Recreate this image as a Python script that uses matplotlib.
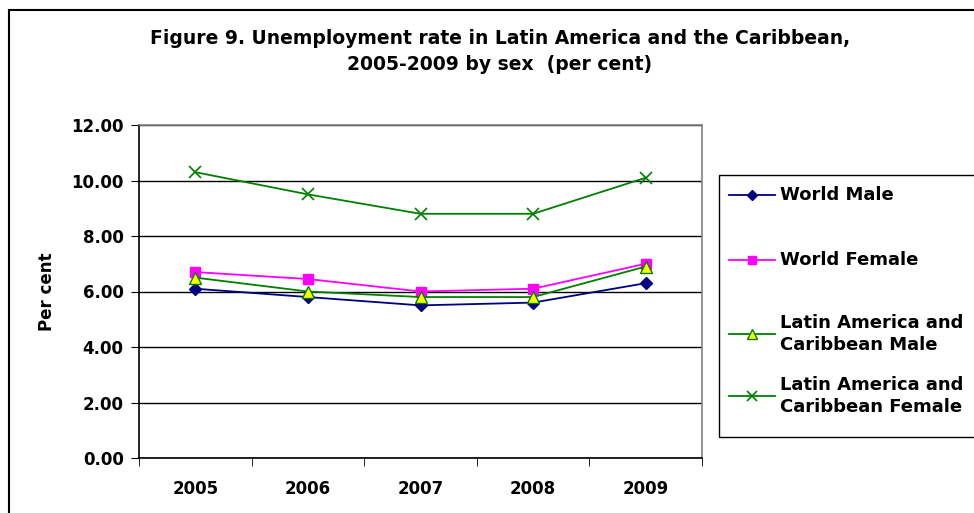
import matplotlib
matplotlib.use("Agg")
import matplotlib.pyplot as plt
from matplotlib.patches import Rectangle
from matplotlib.lines import Line2D

# --- DATA ---
years = ["2005", "2006", "2007", "2008", "2009"]
world_male = [6.1, 5.8, 5.5, 5.6, 6.3]
world_female = [6.7, 6.45, 6.0, 6.1, 7.0]
lac_male = [6.5, 6.0, 5.8, 5.8, 6.9]
lac_female = [10.3, 9.5, 8.8, 8.8, 10.1]
y_ticks = [0, 2, 4, 6, 8, 10, 12]

plt.rcParams['font.family'] = ['DejaVu Sans']

W, H = 974, 513
fig = plt.figure(figsize=(W / 100, H / 100), dpi=100)

# outer chart-area frame (cut off at right and bottom)
fig.patches.append(Rectangle((9 / W, -0.05), 1.2, 1 - 10 / H + 0.05,
                             transform=fig.transFigure, fill=False,
                             edgecolor='black', linewidth=1.5))

# --- PLOT AREA ---
x0, x1, ytop, ybot = 139, 702, 125, 458
ax = fig.add_axes([x0 / W, (H - ybot) / H, (x1 - x0) / W, (ybot - ytop) / H])

xs = list(range(len(years)))
ax.plot(xs, world_male, color='#000080', marker='D', markersize=6, lw=1.3,
        label='World Male', zorder=3)
ax.plot(xs, world_female, color='#ff00ff', marker='s', markersize=7, lw=1.3,
        label='World Female', zorder=3)
ax.plot(xs, lac_male, color='#008000', marker='^', markersize=8, lw=1.3,
        markerfacecolor='#ffff00', markeredgecolor='#008000',
        label='Latin America and\nCaribbean Male', zorder=3)
ax.plot(xs, lac_female, color='#008000', marker='x', markersize=9, lw=1.3,
        markeredgewidth=1.2, label='Latin America and\nCaribbean Female', zorder=3)

ax.set_xlim(-0.5, len(years) - 0.5)
ax.set_ylim(0, 12)
ax.set_yticks(y_ticks)
ax.set_yticklabels([f"{v:.2f}" for v in y_ticks], fontsize=12, fontweight='bold')
ax.set_xticks(xs)
ax.set_xticklabels(years, fontsize=12, fontweight='bold')
ax.set_xticks([i - 0.5 for i in range(len(years) + 1)], minor=True)
ax.tick_params(axis='x', which='major', length=0, pad=16)
ax.tick_params(axis='x', which='minor', length=6, direction='out', color='black')
ax.tick_params(axis='y', length=6, direction='out', pad=5, color='black')

ax.grid(axis='y', color='black', linewidth=1)
ax.set_axisbelow(True)
for side in ['left', 'bottom']:
    ax.spines[side].set_color('black')
    ax.spines[side].set_linewidth(1.2)
for side in ['top', 'right']:
    ax.spines[side].set_color('#808080')
    ax.spines[side].set_linewidth(1.2)

ax.set_ylabel('Per cent', fontsize=12, fontweight='bold', labelpad=11)

fig.text(500 / W, 1 - 38 / H, 'Figure 9. Unemployment rate in Latin America and the Caribbean,',
         ha='center', va='center', fontsize=13.5, fontweight='bold')
fig.text(500 / W, 1 - 64 / H, '2005-2009 by sex  (per cent)',
         ha='center', va='center', fontsize=13.5, fontweight='bold')

# --- LEGEND (box cut off at right edge) ---
fig.patches.append(Rectangle((719 / W, 1 - 437 / H), 300 / W, (437 - 175) / H,
                             transform=fig.transFigure, fill=False,
                             edgecolor='black', linewidth=1))
handles, labels = ax.get_legend_handles_labels()
leg_y = [195, 260, 334, 396]
for h, lab, yy in zip(handles, labels, leg_y):
    ln = Line2D([729 / W, 775 / W], [1 - yy / H] * 2, transform=fig.transFigure,
                color=h.get_color(), lw=1.3)
    fig.lines.append(ln)
    mk = Line2D([752 / W], [1 - yy / H], transform=fig.transFigure,
                marker=h.get_marker(), markersize=h.get_markersize() * 0.85,
                markerfacecolor=h.get_markerfacecolor(),
                markeredgecolor=h.get_markeredgecolor(),
                markeredgewidth=h.get_markeredgewidth(), linestyle='none')
    fig.lines.append(mk)
    fig.text(780 / W, 1 - yy / H, lab, ha='left', va='center', fontsize=13,
             fontweight='bold', linespacing=1.3)

fig.savefig('out.png', dpi=100)
